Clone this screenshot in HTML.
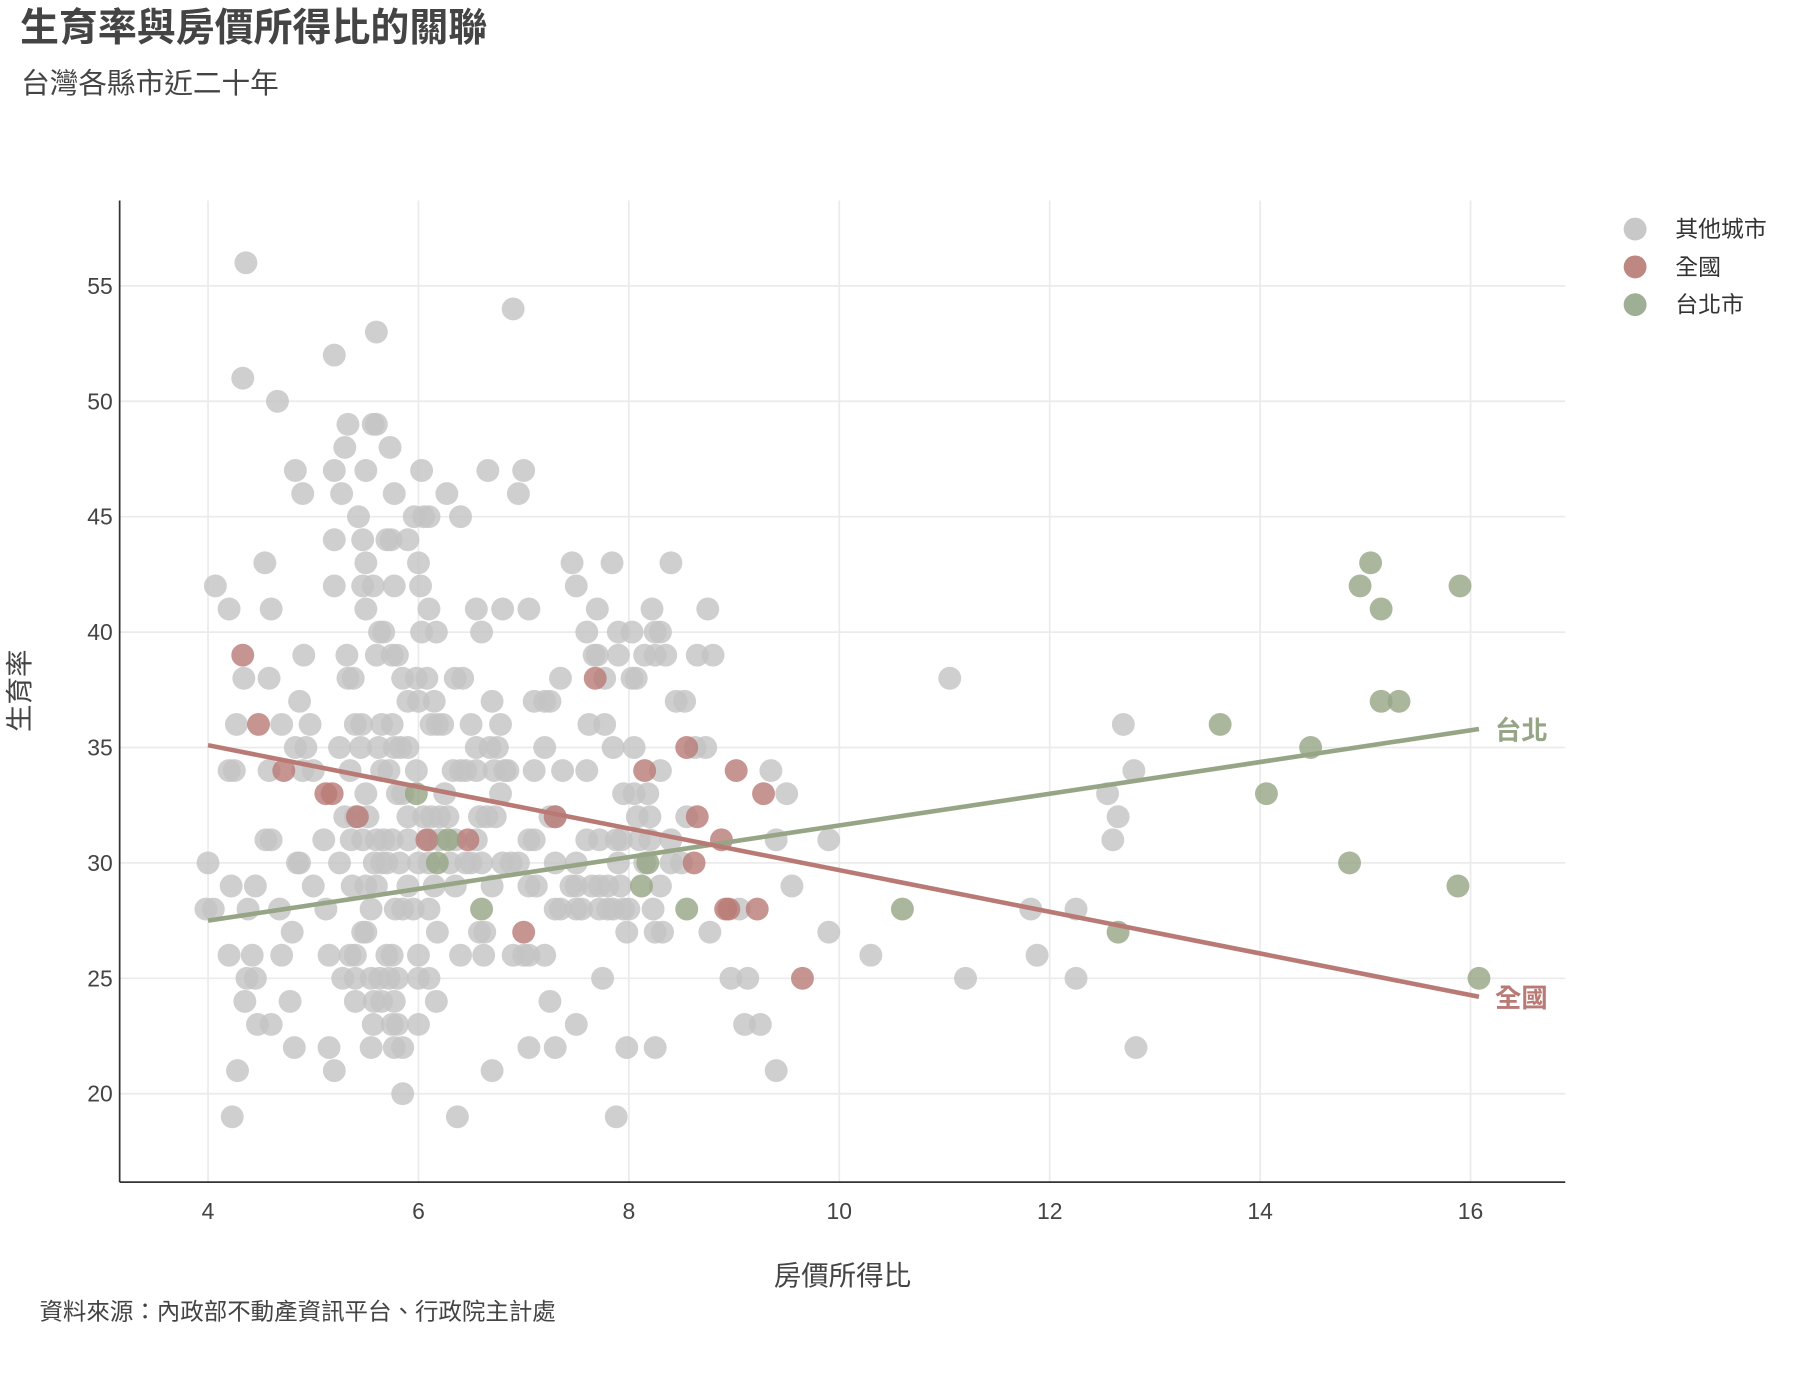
<!DOCTYPE html>
<html><head><meta charset="utf-8">
<style>
html,body{margin:0;padding:0;background:#fff;}
svg{display:block;font-family:"Liberation Sans","Noto Sans CJK TC",sans-serif;}
</style></head>
<body>
<svg id="chart" width="1796" height="1378" viewBox="0 0 1567 1203" xmlns="http://www.w3.org/2000/svg">
<text x="17" y="36" font-size="34" font-weight="bold" fill="#444">生育率與房價所得比的關聯</text>
<text x="18" y="81" font-size="25" fill="#444">台灣各縣市近二十年</text>
<g id="grid"></g>
<g id="pts"></g>
<g id="axes"></g>
<text x="735" y="1122" font-size="24" fill="#444" text-anchor="middle">房價所得比</text>
<text transform="translate(25,603) rotate(-90)" font-size="24" fill="#444" text-anchor="middle">生育率</text>
<text x="34" y="1152" font-size="20.5" fill="#444">資料來源：內政部不動產資訊平台、行政院主計處</text>
<g>
<g><circle cx="1427" cy="200" r="10" fill="#c8c8c8"/><text x="1462" y="207" font-size="20" fill="#333">其他城市</text></g>
<g><circle cx="1427" cy="233" r="10" fill="#be8781"/><text x="1462" y="240" font-size="20" fill="#333">全國</text></g>
<g><circle cx="1427" cy="266" r="10" fill="#9faf95"/><text x="1462" y="273" font-size="20" fill="#333">台北市</text></g>
</g>
</svg>
<script>
const xTicks=[4,6,8,10,12,14,16];
const yTicks=[20,25,30,35,40,45,50,55];
const othersX=[4.36,6.9,5.6,5.2,4.33,4.66,5.33,5.57,5.6,5.3,5.73,4.83,5.2,5.5,6.03,6.66,7.0,4.9,5.27,5.77,6.27,6.95,5.43,5.96,6.05,6.1,6.4,5.2,5.47,5.7,5.74,5.9,4.54,5.5,6.0,7.46,7.84,8.4,4.07,5.2,5.47,5.57,5.77,6.02,7.5,4.2,4.6,5.5,6.1,6.55,6.8,7.05,7.7,8.22,8.75,5.63,5.67,6.03,6.17,6.6,7.6,7.9,8.03,8.25,8.3,4.91,5.32,5.6,5.75,5.8,7.7,7.67,7.9,8.15,8.25,8.35,8.65,8.8,4.34,4.58,5.33,5.38,5.85,5.98,6.08,6.35,6.42,7.35,7.77,8.03,8.07,4.87,5.9,6.0,6.15,6.7,7.1,7.2,7.25,8.45,8.53,4.27,4.7,4.97,5.4,5.46,5.65,5.75,6.12,6.18,6.23,6.5,6.78,7.62,7.77,4.83,4.93,5.25,5.45,5.62,5.77,5.83,5.9,6.55,6.68,6.75,7.2,7.85,8.05,8.63,8.73,4.2,4.25,4.58,4.9,5.0,5.35,5.65,5.72,5.98,6.33,6.4,6.45,6.55,6.72,6.82,6.85,7.1,7.37,7.6,8.3,9.35,5.5,5.8,5.85,6.25,6.78,7.95,8.05,8.18,9.5,5.3,5.4,5.52,5.9,6.05,6.12,6.2,6.28,6.58,6.65,6.73,7.25,7.3,8.08,8.2,8.55,4.55,4.6,5.1,5.36,5.47,5.6,5.67,5.75,5.9,6.1,6.2,6.35,6.55,7.05,7.1,7.6,7.72,7.88,7.93,8.1,8.2,8.4,9.4,9.9,4.0,4.85,4.87,5.25,5.58,5.65,5.7,5.82,6.0,6.1,6.3,6.45,6.5,6.6,6.8,6.88,6.95,7.3,7.5,7.9,8.15,8.4,8.5,4.22,4.45,5.0,5.37,5.5,5.6,5.9,6.15,6.35,6.7,7.05,7.12,7.45,7.5,7.65,7.72,7.8,7.92,8.3,9.55,3.98,4.05,4.38,4.68,5.12,5.55,5.78,5.85,5.95,6.1,7.3,7.35,7.5,7.55,7.72,7.8,7.85,7.95,8.0,8.23,9.05,11.82,12.25,4.8,5.47,5.5,6.18,6.58,6.63,7.98,8.25,8.32,8.77,9.9,4.2,4.42,4.7,5.15,5.35,5.4,5.7,5.75,6.0,6.4,6.62,6.9,7.0,7.05,7.2,10.3,11.88,4.37,4.45,5.28,5.4,5.55,5.63,5.72,5.8,6.0,6.1,7.75,8.97,9.13,11.2,12.25,4.35,4.78,5.4,5.58,5.65,5.77,6.17,7.25,4.47,4.6,5.57,5.75,5.8,6.0,7.5,9.1,9.25,4.82,5.15,5.55,5.77,5.85,7.05,7.3,7.98,8.25,12.82,4.28,5.2,6.7,9.4,5.85,4.23,6.37,7.88,11.05,12.7,12.8,12.55,12.65,12.6];
const othersY=[56,54,53,52,51,50,49,49,49,48,48,47,47,47,47,47,47,46,46,46,46,46,45,45,45,45,45,44,44,44,44,44,43,43,43,43,43,43,42,42,42,42,42,42,42,41,41,41,41,41,41,41,41,41,41,40,40,40,40,40,40,40,40,40,40,39,39,39,39,39,39,39,39,39,39,39,39,39,38,38,38,38,38,38,38,38,38,38,38,38,38,37,37,37,37,37,37,37,37,37,37,36,36,36,36,36,36,36,36,36,36,36,36,36,36,35,35,35,35,35,35,35,35,35,35,35,35,35,35,35,35,34,34,34,34,34,34,34,34,34,34,34,34,34,34,34,34,34,34,34,34,34,33,33,33,33,33,33,33,33,33,32,32,32,32,32,32,32,32,32,32,32,32,32,32,32,32,31,31,31,31,31,31,31,31,31,31,31,31,31,31,31,31,31,31,31,31,31,31,31,31,30,30,30,30,30,30,30,30,30,30,30,30,30,30,30,30,30,30,30,30,30,30,30,29,29,29,29,29,29,29,29,29,29,29,29,29,29,29,29,29,29,29,29,28,28,28,28,28,28,28,28,28,28,28,28,28,28,28,28,28,28,28,28,28,28,28,27,27,27,27,27,27,27,27,27,27,27,26,26,26,26,26,26,26,26,26,26,26,26,26,26,26,26,26,25,25,25,25,25,25,25,25,25,25,25,25,25,25,25,24,24,24,24,24,24,24,24,23,23,23,23,23,23,23,23,23,22,22,22,22,22,22,22,22,22,22,21,21,21,21,20,19,19,19,38,36,34,33,32,31];
const nationalX=[4.33,4.48,4.72,5.12,5.18,5.42,6.08,6.47,7.68,8.15,8.55,8.65,8.88,9.02,9.28,8.62,8.92,8.95,9.22,7.0,7.3,9.65];
const nationalY=[39,36,34,33,33,32,31,31,38,34,35,32,31,34,33,30,28,28,28,27,32,25];
const taipeiX=[5.98,6.18,6.28,6.6,8.12,8.18,8.55,10.6,12.65,13.62,14.06,14.48,14.85,14.95,15.05,15.15,15.15,15.32,15.88,15.9,16.08];
const taipeiY=[33,30,31,28,29,30,28,28,27,36,33,35,30,42,43,41,37,37,29,42,25];
const trendX=[4,16.08];
const taipeiTrend=[27.5,35.8];
const nationalTrend=[35.1,24.2];

const NS='http://www.w3.org/2000/svg';
const X0=3.16,X1=16.9,Y0=16.17,Y1=58.7,PL=104,PR=1366,PT=175,PB=1032;
function sx(v){return PL+(v-X0)/(X1-X0)*(PR-PL);}
function sy(v){return PB-(v-Y0)/(Y1-Y0)*(PB-PT);}
function mk(tag,attrs,parent){const e=document.createElementNS(NS,tag);for(const k in attrs)e.setAttribute(k,attrs[k]);parent.appendChild(e);return e;}
const grid=document.getElementById('grid'),axes=document.getElementById('axes'),pts=document.getElementById('pts');
xTicks.forEach(t=>{
  const l=mk('line',{x1:sx(t),x2:sx(t),y1:PT,y2:PB,stroke:'#ebebeb','stroke-width':1.5},grid);
  
  
  const tx=mk('text',{x:sx(t),y:PB+32,'font-size':20,fill:'#444','text-anchor':'middle'},axes);
  tx.textContent=t;
  
  
});
yTicks.forEach(t=>{
  const l=mk('line',{x1:PL,x2:PR,y1:sy(t),y2:sy(t),stroke:'#ebebeb','stroke-width':1.5},grid);
  
  
  const tx=mk('text',{x:PL-6,y:sy(t)+7,'font-size':20,fill:'#444','text-anchor':'end'},axes);
  tx.textContent=t;
  
  
});
const ax=mk('line',{x1:PL,x2:PR,y1:PB,y2:PB,stroke:'#333','stroke-width':1.5},axes);


const ay=mk('line',{x1:PL,x2:PL,y1:PT,y2:PB,stroke:'#333','stroke-width':1.5},axes);


function drawSeries(xs,ys,color,name){
  xs.forEach((x,i)=>{
    const c=mk('circle',{cx:sx(x),cy:sy(ys[i]),r:10,fill:color,'fill-opacity':0.8},pts);
    
    
  });
}
drawSeries(othersX,othersY,'#c3c3c3','point-other-city');
drawSeries(nationalX,nationalY,'#b97a75','point-national');
drawSeries(taipeiX,taipeiY,'#95a585','point-taipei');
const lt=mk('line',{x1:sx(trendX[0]),y1:sy(taipeiTrend[0]),x2:sx(trendX[1]),y2:sy(taipeiTrend[1]),stroke:'#95a585','stroke-width':4},pts);


const ln=mk('line',{x1:sx(trendX[0]),y1:sy(nationalTrend[0]),x2:sx(trendX[1]),y2:sy(nationalTrend[1]),stroke:'#b97a75','stroke-width':4},pts);


const t1=mk('text',{x:sx(trendX[1])+14,y:sy(taipeiTrend[1])+9,'font-size':23,'font-weight':'bold',fill:'#95a585'},pts);
t1.textContent='台北';


const t2=mk('text',{x:sx(trendX[1])+14,y:sy(nationalTrend[1])+9,'font-size':23,'font-weight':'bold',fill:'#b97a75'},pts);
t2.textContent='全國';


</script>
</body></html>
